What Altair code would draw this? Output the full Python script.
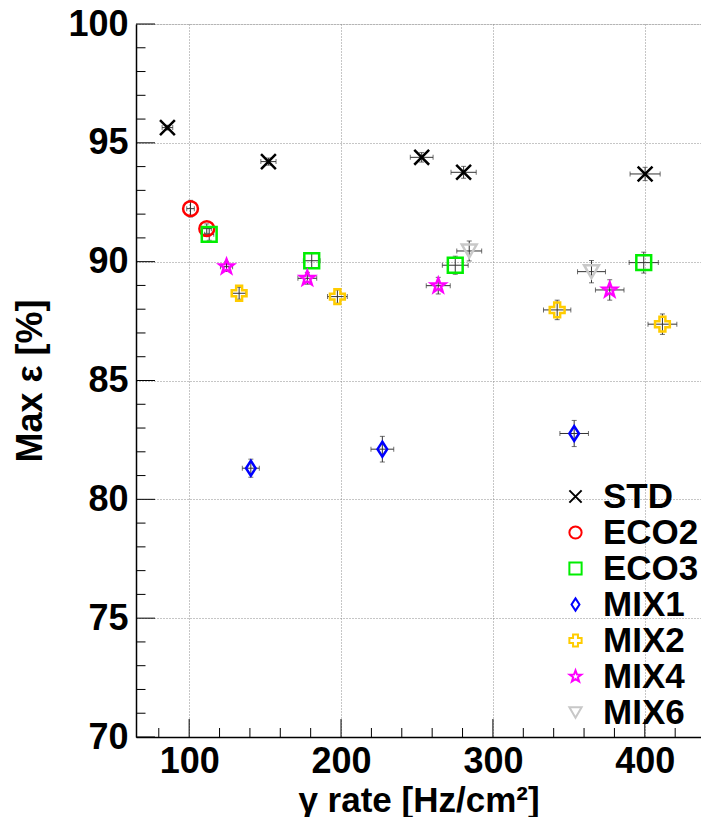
import altair as alt
import pandas as pd

# ---------------- data ----------------
series = ["STD", "ECO2", "ECO3", "MIX1", "MIX2", "MIX4", "MIX6"]

std_x = [85.7, 152.2, 253.1, 280.7, 400.2]
std_y = [95.64, 94.21, 94.39, 93.76, 93.69]
std_xe = [3.5, 5.0, 7.5, 8.3, 9.9]
std_ye = [0.10, 0.15, 0.20, 0.25, 0.28]

eco2_x = [100.9, 111.6]
eco2_y = [92.23, 91.39]
eco2_xe = [2.5, 3.0]
eco2_ye = [0.35, 0.20]

eco3_x = [113.2, 180.7, 275.2, 399.3]
eco3_y = [91.15, 90.04, 89.85, 89.96]
eco3_xe = [3.0, 5.5, 8.5, 9.6]
eco3_ye = [0.25, 0.30, 0.38, 0.44]

mix1_x = [140.6, 227.2, 353.5]
mix1_y = [81.31, 82.11, 82.77]
mix1_xe = [5.6, 7.5, 9.4]
mix1_ye = [0.38, 0.54, 0.55]

mix2_x = [132.9, 197.6, 342.3, 411.6]
mix2_y = [88.67, 88.53, 87.97, 87.37]
mix2_xe = [4.5, 6.5, 9.0, 9.5]
mix2_ye = [0.25, 0.28, 0.41, 0.43]

mix4_x = [124.6, 177.8, 264.0, 376.9]
mix4_y = [89.79, 89.30, 88.99, 88.81]
mix4_xe = [4.0, 6.2, 7.9, 9.4]
mix4_ye = [0.20, 0.25, 0.35, 0.43]

mix6_x = [284.4, 364.9]
mix6_y = [90.45, 89.58]
mix6_xe = [8.2, 9.2]
mix6_ye = [0.42, 0.47]

x_major = [100, 200, 300, 400]
x_minor = [v for v in range(80, 437, 20) if v not in x_major]
y_major = [70, 75, 80, 85, 90, 95, 100]
y_minor = [v for v in range(70, 101) if v not in y_major]

colors = ["#000000", "#ff0000", "#00ee00", "#0000ff", "#ffcc00", "#ff00ff", "#c8c8c8"]
shapes = [
    "M-1,-1L1,1M1,-1L-1,1",
    "circle",
    "square",
    "M0,-1L0.65,0L0,1L-0.65,0Z",
    "cross",
    "M0,-1L0.25,-0.33L0.95,-0.31L0.38,0.13L0.59,0.81L0,0.42L-0.59,0.81L-0.38,0.13L-0.95,-0.31L-0.25,-0.33Z",
    "triangle-down",
]

# ---------------- build table ----------------
rows = []
for name, xs, ys, xes, yes in [
    ("STD", std_x, std_y, std_xe, std_ye),
    ("ECO2", eco2_x, eco2_y, eco2_xe, eco2_ye),
    ("ECO3", eco3_x, eco3_y, eco3_xe, eco3_ye),
    ("MIX1", mix1_x, mix1_y, mix1_xe, mix1_ye),
    ("MIX2", mix2_x, mix2_y, mix2_xe, mix2_ye),
    ("MIX4", mix4_x, mix4_y, mix4_xe, mix4_ye),
    ("MIX6", mix6_x, mix6_y, mix6_xe, mix6_ye),
]:
    for x, y, xe, ye in zip(xs, ys, xes, yes):
        rows.append(dict(series=name, x=x, y=y, xlo=x - xe, xhi=x + xe, ylo=y - ye, yhi=y + ye))
df = pd.DataFrame(rows)

W, H = 565, 713
FONT = "Liberation Sans"

xscale = alt.Scale(domain=[65, 437], nice=False, zero=False)
yscale = alt.Scale(domain=[70, 100], nice=False, zero=False)

xaxis = alt.Axis(
    title="γ rate [Hz/cm²]", values=x_major, grid=True, gridDash=[1, 2],
    gridColor="#8c8c8c", gridWidth=1, ticks=False, tickSize=0,
    domainColor="black", domainWidth=1.5,
    labelFont=FONT, labelFontSize=36, labelFontWeight="bold", labelColor="black",
    labelPadding=7, labelFlush=False,
    titleFont=FONT, titleFontSize=35, titleFontWeight="bold", titleColor="black",
    titleX=W / 2, titleY=74, titleBaseline="alphabetic", titleAlign="center",
)
yaxis = alt.Axis(
    title="Max ε [%]", values=y_major, grid=True, gridDash=[1, 2],
    gridColor="#8c8c8c", gridWidth=1, ticks=False, tickSize=0,
    domainColor="black", domainWidth=1.5,
    labelFont=FONT, labelFontSize=36, labelFontWeight="bold", labelColor="black",
    labelPadding=8, labelFlush=False,
    titleFont=FONT, titleFontSize=36, titleFontWeight="bold", titleColor="black",
    titleX=-106, titleY=H / 2, titleAngle=270, titleBaseline="middle", titleAlign="center",
)

def X(field):
    return alt.X(field, type="quantitative", scale=xscale, axis=xaxis)

def Y(field):
    return alt.Y(field, type="quantitative", scale=yscale, axis=yaxis)

base = alt.Chart(df)

err_x = base.mark_rule(color="#333333", strokeWidth=1).encode(
    x=X("xlo"), x2="xhi", y=Y("y"))
err_y = base.mark_rule(color="#333333", strokeWidth=1).encode(
    x=X("x"), y=Y("ylo"), y2="yhi")
cap_xl = base.mark_tick(color="#333333", orient="vertical", size=5, thickness=1).encode(x=X("xlo"), y=Y("y"))
cap_xh = base.mark_tick(color="#333333", orient="vertical", size=5, thickness=1).encode(x=X("xhi"), y=Y("y"))
cap_yl = base.mark_tick(color="#333333", orient="horizontal", size=5, thickness=1).encode(x=X("x"), y=Y("ylo"))
cap_yh = base.mark_tick(color="#333333", orient="horizontal", size=5, thickness=1).encode(x=X("x"), y=Y("yhi"))

points = base.mark_point(filled=False, strokeWidth=2.5, size=220, opacity=1).encode(
    x=X("x"), y=Y("y"),
    color=alt.Color("series:N", scale=alt.Scale(domain=series, range=colors),
                    legend=alt.Legend(
                        title=None, orient="none", legendX=422, legendY=455,
                        labelFont=FONT, labelFontSize=35, labelFontWeight="bold",
                        labelColor="black", symbolSize=150, symbolStrokeWidth=2,
                        labelOffset=10, rowPadding=-1, padding=0)),
    shape=alt.Shape("series:N", scale=alt.Scale(domain=series, range=shapes)),
)

xt_major = alt.Chart(pd.DataFrame({"x": x_major})).mark_rule(color="black", strokeWidth=1).encode(
    x=X("x"), y=alt.value(H), y2=alt.value(H - 18))
xt_minor = alt.Chart(pd.DataFrame({"x": x_minor})).mark_rule(color="black", strokeWidth=1).encode(
    x=X("x"), y=alt.value(H), y2=alt.value(H - 9))
yt_major = alt.Chart(pd.DataFrame({"y": y_major})).mark_rule(color="black", strokeWidth=1).encode(
    y=Y("y"), x=alt.value(0), x2=alt.value(19))
yt_minor = alt.Chart(pd.DataFrame({"y": y_minor})).mark_rule(color="black", strokeWidth=1).encode(
    y=Y("y"), x=alt.value(0), x2=alt.value(9.5))

chart = alt.layer(
    xt_major, xt_minor, yt_major, yt_minor,
    err_x, err_y, cap_xl, cap_xh, cap_yl, cap_yh, points,
).properties(
    width=W, height=H,
    autosize=alt.AutoSizeParams(type="none"),
    padding={"left": 136, "top": 24, "right": 0, "bottom": 80},
).configure_view(stroke=None).configure(background="white")

chart.save("out.html", embed_options={"renderer": "svg", "actions": False})
